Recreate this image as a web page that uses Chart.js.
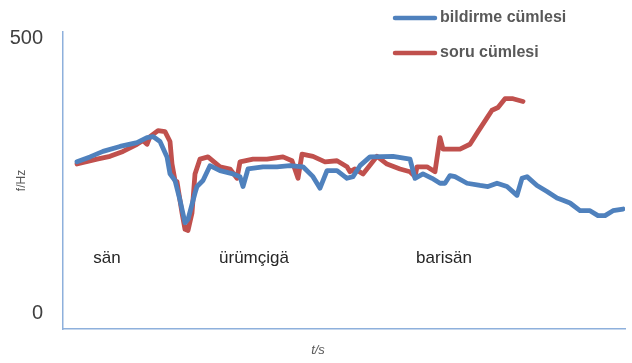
<!DOCTYPE html>
<html>
<head>
<meta charset="utf-8">
<script src="https://cdn.jsdelivr.net/npm/chart.js@4/dist/chart.umd.min.js"></script>
<style>
  html, body { margin: 0; padding: 0; background: #fff; }
</style>
</head>
<body>
<canvas id="pitchChart" width="632" height="363"></canvas>
<script>
// time (ms) and pitch (Hz)
var blueT = [70, 135, 200, 285, 370, 420, 450, 485, 520, 535, 560, 585, 610, 625, 660, 670, 700, 735, 785, 850,
    885, 900, 925, 1000, 1070, 1135, 1200, 1250, 1285, 1320, 1370, 1420, 1450, 1485, 1535, 1650, 1735, 1760, 1800, 1845,
    1885, 1910, 1935, 1960, 2020, 2085, 2125, 2170, 2220, 2270, 2295, 2320, 2370, 2420, 2470, 2500, 2535, 2585, 2635, 2675,
    2710, 2750, 2800];
var blueHz = [276, 285, 295, 304, 311, 320, 322, 313, 285, 254, 242, 206, 165, 171, 219, 231, 242, 269, 260, 254,
    249, 231, 263, 267, 267, 269, 267, 249, 228, 260, 260, 246, 249, 269, 285, 286, 281, 246, 254, 246,
    237, 237, 251, 249, 237, 233, 231, 237, 231, 215, 246, 249, 233, 222, 210, 206, 201, 187, 187, 178,
    178, 187, 190];

var redT = [70, 170, 235, 300, 370, 400, 420, 435, 475, 510, 535, 545, 560, 570, 595, 610, 625, 645, 660, 685,
    725, 785, 835, 870, 885, 950, 1020, 1100, 1145, 1175, 1195, 1250, 1310, 1370, 1420, 1435, 1460, 1500, 1570, 1620,
    1685, 1735, 1760, 1770, 1820, 1860, 1885, 1900, 1985, 2035, 2075, 2120, 2145, 2175, 2210, 2250, 2300];
var redHz = [272, 281, 286, 295, 308, 315, 308, 322, 333, 331, 313, 272, 242, 240, 183, 153, 151, 183, 254, 281,
    285, 267, 263, 246, 276, 281, 281, 285, 278, 246, 290, 286, 276, 278, 267, 258, 263, 254, 286, 272,
    263, 258, 249, 267, 267, 258, 320, 299, 299, 308, 331, 356, 370, 375, 391, 391, 386];

var seriesNames = ['bildirme cümlesi', 'soru cümlesi'];
var seriesColors = ['#4f81bd', '#c0504d'];

var yTicks = [0, 500];

var syllables = ['sän', 'ürümçigä', 'barisän'];
var syllableT = [220, 955, 1905];
var syllableHz = 100;

function toPoints(ts, vs) {
    return ts.map(function (t, i) { return {x: t, y: vs[i]}; });
}

var textPlugin = {
    id: 'pitchText',
    afterDraw: function (chart) {
        var ctx = chart.ctx;
        var xs = chart.scales.x;
        var ys = chart.scales.y;
        ctx.save();

        // syllable labels
        ctx.font = '17px "Liberation Sans", Arial, sans-serif';
        ctx.fillStyle = '#262626';
        ctx.textAlign = 'center';
        ctx.textBaseline = 'middle';
        syllables.forEach(function (s, i) {
            ctx.fillText(s, xs.getPixelForValue(syllableT[i]), ys.getPixelForValue(syllableHz));
        });

        // x axis title
        ctx.font = 'italic 13px "Liberation Sans", Arial, sans-serif';
        ctx.fillStyle = '#595959';
        ctx.fillText('t/s', xs.getPixelForValue(1275), 350);

        // legend
        ctx.font = 'bold 16px "Liberation Sans", Arial, sans-serif';
        ctx.textAlign = 'left';
        ctx.lineCap = 'round';
        ctx.lineWidth = 4.5;
        chart.data.datasets.forEach(function (ds, i) {
            var y = 18 + i * 35;
            ctx.strokeStyle = ds.borderColor;
            ctx.beginPath();
            ctx.moveTo(395, y);
            ctx.lineTo(435, y);
            ctx.stroke();
            ctx.fillStyle = '#595959';
            ctx.fillText(ds.label, 440, y);
        });
        ctx.restore();
    }
};

var ctx = document.getElementById('pitchChart');
var pitchChart = new Chart(ctx, {
    type: 'line',
    data: {
        datasets: [{
            label: seriesNames[0],
            data: toPoints(blueT, blueHz),
            borderColor: seriesColors[0],
            borderWidth: 4.8,
            pointRadius: 0,
            borderJoinStyle: 'round',
            borderCapStyle: 'round',
            fill: false
        }, {
            label: seriesNames[1],
            data: toPoints(redT, redHz),
            borderColor: seriesColors[1],
            borderWidth: 4.8,
            pointRadius: 0,
            borderJoinStyle: 'round',
            borderCapStyle: 'round',
            fill: false
        }]
    },
    options: {
        responsive: false,
        animation: false,
        devicePixelRatio: 1,
        layout: {
            padding: {left: 0, right: 7, top: 25, bottom: 0}
        },
        plugins: {
            legend: {display: false},
            tooltip: {enabled: false}
        },
        scales: {
            x: {
                type: 'linear',
                min: 0,
                max: 2810,
                grid: {display: false, drawTicks: false},
                border: {display: true, color: '#8eb0dc', width: 1.5},
                ticks: {display: false},
                afterFit: function (scale) { scale.height = 34; }
            },
            y: {
                min: -28.5,
                max: 512.5,
                grid: {display: false, drawTicks: false},
                border: {display: true, color: '#8eb0dc', width: 1.5},
                afterBuildTicks: function (scale) {
                    scale.ticks = yTicks.map(function (v) { return {value: v}; });
                },
                ticks: {
                    padding: 20,
                    color: '#404040',
                    font: {family: '"Liberation Sans", Arial, sans-serif', size: 20}
                },
                title: {
                    display: true,
                    text: 'f/Hz',
                    color: '#595959',
                    padding: {top: 14, bottom: 0},
                    font: {family: '"Liberation Sans", Arial, sans-serif', size: 12}
                },
                afterFit: function (scale) { scale.width = 63; }
            }
        }
    },
    plugins: [textPlugin]
});
</script>
</body>
</html>
